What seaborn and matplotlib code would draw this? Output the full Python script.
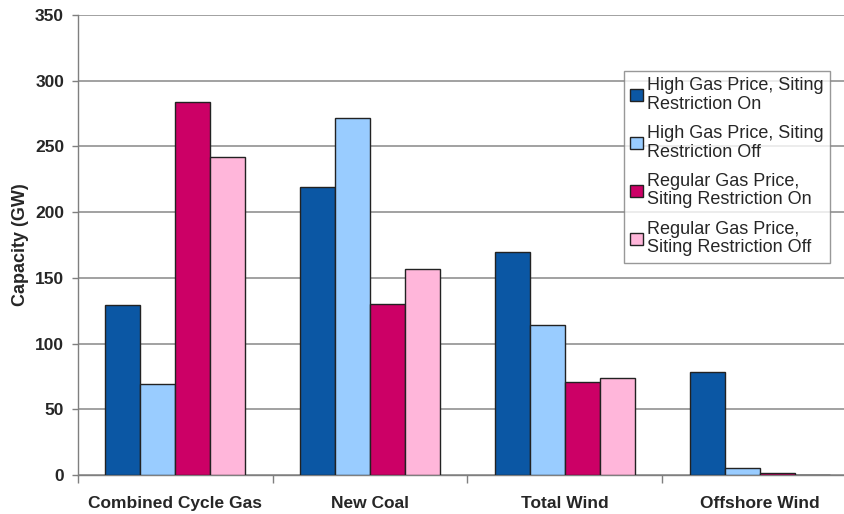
import matplotlib
matplotlib.use("Agg")
import matplotlib.pyplot as plt
import seaborn as sns
import pandas as pd

categories = ["Combined Cycle Gas", "New Coal", "Total Wind", "Offshore Wind"]
series_names = [
    "High Gas Price, Siting\nRestriction On",
    "High Gas Price, Siting\nRestriction Off",
    "Regular Gas Price,\nSiting Restriction On",
    "Regular Gas Price,\nSiting Restriction Off",
]
high_on = [129, 219, 170, 78]
high_off = [69, 272, 114, 5]
regular_on = [284, 130, 71, 1.5]
regular_off = [242, 157, 74, 0.3]
colors = ["#0B57A4", "#99CCFF", "#CC0066", "#FFB6DA"]
y_ticks = [0, 50, 100, 150, 200, 250, 300, 350]

rows = []
for name, vals in zip(series_names, [high_on, high_off, regular_on, regular_off]):
    for cat, v in zip(categories, vals):
        rows.append({"Category": cat, "Scenario": name, "Capacity": v})
df = pd.DataFrame(rows)

sns.set_theme(style="white")
plt.rcParams["font.family"] = ["Liberation Sans", "DejaVu Sans"]

fig = plt.figure(figsize=(8.45, 5.14), dpi=100)
ax = fig.add_axes([78 / 845, 1 - 475 / 514, (857 - 78) / 845, 460 / 514])

sns.barplot(
    data=df, x="Category", y="Capacity", hue="Scenario",
    order=categories, hue_order=series_names, palette=colors,
    width=0.72, gap=0, edgecolor="#222222", linewidth=1.0,
    saturation=1, ax=ax, zorder=3,
)

ax.set_xlim(-0.5, len(categories) - 0.5)
ax.set_ylim(0, 350)
ax.set_yticks(y_ticks)
ax.yaxis.grid(True, color="#9a9a9a", linewidth=1.3, zorder=0)
ax.set_axisbelow(True)

for side in ["top", "right"]:
    ax.spines[side].set_visible(False)
for side in ["left", "bottom"]:
    ax.spines[side].set_color("#7f7f7f")
    ax.spines[side].set_linewidth(1.0)

# Category boundary ticks on the x axis
ax.set_xticks([i + 0.5 for i in range(-1, len(categories))], minor=True)
ax.tick_params(axis="x", which="minor", length=6, color="#7f7f7f", width=1.0, bottom=True)
ax.tick_params(axis="x", which="major", length=0, pad=15)
ax.tick_params(axis="y", length=4, color="#7f7f7f", width=1.0, left=True, pad=6)
ax.set_xticks(range(len(categories)))
ax.set_xticklabels(categories, fontsize=12.5, fontweight="bold")
for lab in ax.get_yticklabels():
    lab.set_fontsize(12.5)
    lab.set_fontweight("bold")

ax.set_xlabel("")
ax.set_ylabel("Capacity (GW)", fontsize=13, fontweight="bold")
ax.yaxis.set_label_coords(-0.063, 0.5)

leg = ax.legend(
    loc="upper left", bbox_to_anchor=((624 - 78) / 779, 1 - (71 - 15) / 460),
    fontsize=13, frameon=True, fancybox=False, edgecolor="#7f7f7f",
    handlelength=0.7, handleheight=0.7, handletextpad=0.25,
    labelspacing=0.7, borderpad=0.35, borderaxespad=0,
)
leg.get_frame().set_linewidth(1.0)
for t in leg.get_texts():
    t.set_linespacing(1.1)
for h in leg.legend_handles:
    h.set_edgecolor("#222222")
    h.set_linewidth(1.0)

fig.savefig("out.png", dpi=100)
